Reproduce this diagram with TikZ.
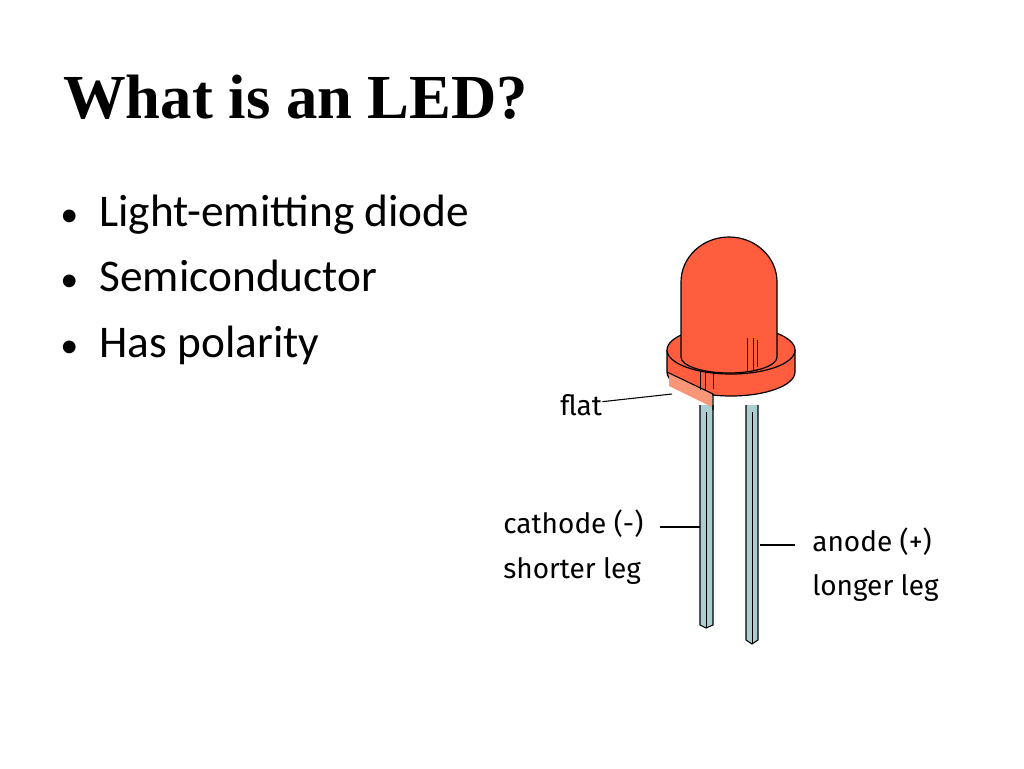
\documentclass[tikz,border=0pt]{standalone}
\usepackage{fontspec}
\setmainfont{Liberation Serif}
\newfontfamily\bodyfont{Carlito}
\newfontfamily\handfont{Fira Sans}
\usetikzlibrary{positioning}
\definecolor{ledred}{RGB}{255,94,62}
\definecolor{flatred}{RGB}{250,150,120}
\definecolor{legblue}{RGB}{170,205,210}
\tikzset{
  bullet/.style={anchor=base west, font=\bodyfont\fontsize{34}{40}\selectfont, inner sep=0pt},
  tag/.style={anchor=base west, font=\handfont\fontsize{21}{25}\selectfont, inner sep=0pt},
  leg/.style={draw=black, fill=legblue, line width=0.8pt},
  body/.style={draw=black, fill=ledred, line width=0.9pt}
}
\begin{document}
\begin{tikzpicture}[x=0.75pt, y=-0.75pt]
    \useasboundingbox (0,0) rectangle (1024,768);

    % Titel
    \node[anchor=base west, inner sep=0pt, font=\bfseries\fontsize{47}{54}\selectfont] (title) at (63,118) {What is an LED?};

    % Aufzaehlung
    \node[bullet] (b1) at (60,226) {{\fontsize{27}{27}\selectfont•}\hspace{16pt}Light-emitting diode};
    \node[bullet] (b2) at (60,291) {{\fontsize{27}{27}\selectfont•}\hspace{16pt}Semiconductor};
    \node[bullet] (b3) at (60,357) {{\fontsize{27}{27}\selectfont•}\hspace{16pt}Has polarity};

    % Beine
    \draw[leg] (700,405) -- (700,625) -- (706,628) -- (713,625) -- (713,405);
    \draw[leg] (746,405) -- (746,640) -- (752,644) -- (758,640) -- (758,405);
    \draw[black, line width=0.6pt] (706,412) -- (706,628) (752,412) -- (752,644);

    % Flansch
    \draw[body] (667,350) -- (667,372) arc (180:0:64 and 24) -- (795,350);
    \fill[flatred] (669,373) -- (669,386) -- (712,407) -- (712,394) -- cycle;
    \draw[black, line width=0.8pt] (667,372) -- (713,394) -- (713,410);
    \draw[body] (731,350) ellipse (64 and 24);

    % Kuppel
    \draw[body] (681,357) -- (681,282) arc (180:360:48 and 45) -- (777,357) arc (0:180:48 and 16);
    \draw[black, line width=0.7pt] (747,338) -- (747,372) (753,338) -- (753,370) (757,340) -- (757,367)
        (700,372) -- (700,390) (705,370) -- (705,391) (713,372) -- (713,389);

    % Beschriftungen
    \coordinate (flatend) at (672,394);
    \coordinate (cathend) at (700,527);
    \coordinate (anend) at (760,545);
    \node[tag] (flat) at (560,415) {flat};
    \node[tag] (cath) at (503,533) {cathode (-)};
    \node[tag] (short) at (503,578) {shorter leg};
    \node[tag] (anode) at (812,551) {anode (+)};
    \node[tag] (long) at (812,595) {longer leg};
    \draw[line width=0.8pt] (flat.east) ++(0,-3) -- (flatend);
    \draw[line width=0.8pt] (cathend) -- ++(-40,0);
    \draw[line width=0.8pt] (anend) -- ++(35,0);
\end{tikzpicture}
\end{document}
